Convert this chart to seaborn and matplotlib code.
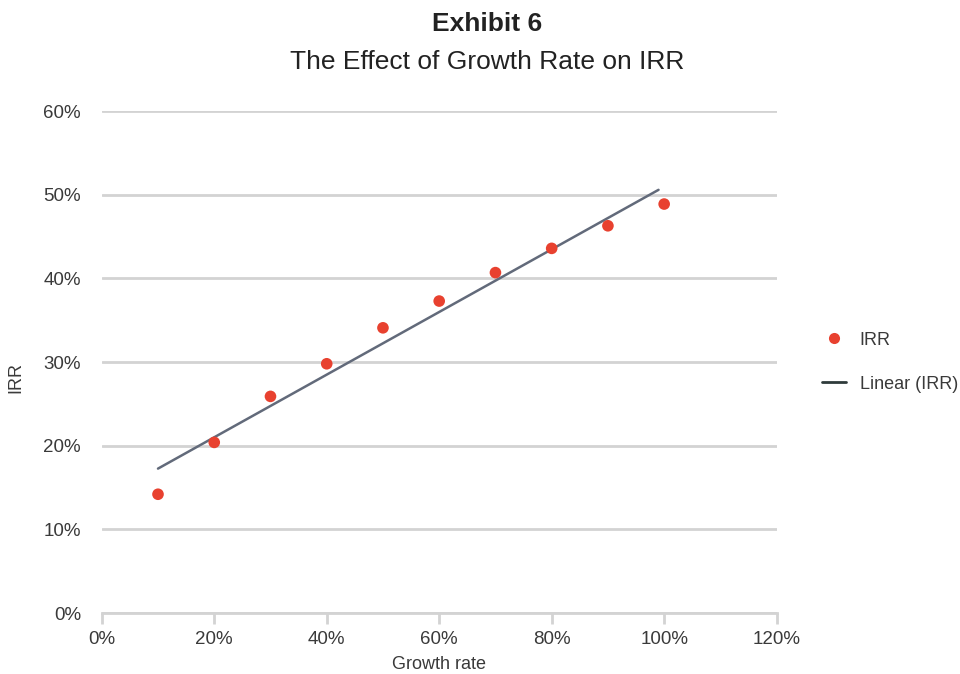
import numpy as np
import pandas as pd
import matplotlib
matplotlib.use("Agg")
import matplotlib.pyplot as plt
from matplotlib.ticker import PercentFormatter
import seaborn as sns

growth_rate = [0.10, 0.20, 0.30, 0.40, 0.50, 0.60, 0.70, 0.80, 0.90, 1.00]
irr = [0.142, 0.204, 0.259, 0.298, 0.341, 0.373, 0.407, 0.436, 0.463, 0.489]
trend_end = 0.99  # excel trendline stops just short of the last point

x_ticks = [0.0, 0.2, 0.4, 0.6, 0.8, 1.0, 1.2]
y_ticks = [0.0, 0.1, 0.2, 0.3, 0.4, 0.5, 0.6]

df = pd.DataFrame({"Growth rate": growth_rate, "IRR": irr})

# linear fit for the trendline
slope, intercept = np.polyfit(df["Growth rate"], df["IRR"], 1)
trend_x = np.array([growth_rate[0], trend_end])
trend = pd.DataFrame({"x": trend_x, "y": slope * trend_x + intercept})

sns.set_theme(style="white")
plt.rcParams["font.family"] = ["Liberation Sans", "DejaVu Sans"]

fig = plt.figure(figsize=(9.6, 6.74), dpi=100)
ax = fig.add_axes([0.106, 0.0905, 0.703, 0.7445])

text_col = "#3a3a3a"
grid_col = "#d3d3d3"

sns.lineplot(data=trend, x="x", y="y", ax=ax, color="#626a7a", linewidth=1.8,
             label="_nolegend_", zorder=2)
sns.scatterplot(data=df, x="Growth rate", y="IRR", ax=ax, color="#e8412f",
                s=70, edgecolor="none", zorder=3, label="_nolegend_")

ax.set_xlim(0, 1.2)
ax.set_ylim(0, 0.6)
ax.set_xticks(x_ticks)
ax.set_yticks(y_ticks)
ax.xaxis.set_major_formatter(PercentFormatter(1.0, decimals=0))
ax.yaxis.set_major_formatter(PercentFormatter(1.0, decimals=0))

ax.yaxis.grid(True, color=grid_col, linewidth=2)
ax.set_axisbelow(True)
for side in ["top", "right", "left"]:
    ax.spines[side].set_visible(False)
ax.spines["bottom"].set_color(grid_col)
ax.spines["bottom"].set_linewidth(2)
ax.tick_params(axis="x", bottom=True, length=8, width=2, color=grid_col,
               labelsize=13.5, labelcolor=text_col, pad=5)
ax.tick_params(axis="y", left=False, labelsize=13.5, labelcolor=text_col, pad=9)

ax.set_xlabel("Growth rate", fontsize=13, color=text_col, labelpad=6)
ax.set_ylabel("IRR", fontsize=13, color=text_col)
ax.yaxis.set_label_coords(-0.114, 0.47)

# legend
handles = [
    plt.Line2D([], [], marker="o", linestyle="none", color="#e8412f",
               markersize=8, markeredgewidth=0),
    plt.Line2D([], [], color="#2f3b3b", linewidth=2),
]
ax.legend(handles, ["IRR", "Linear (IRR)"], loc="center left",
          bbox_to_anchor=(1.043, 0.5), frameon=False, fontsize=13,
          labelcolor=text_col, handlelength=1.35, labelspacing=1.5,
          handletextpad=0.75)

fig.text(0.507, 0.965, "Exhibit 6", ha="center", va="center",
         fontsize=19, fontweight="bold", color="#222222")
fig.text(0.507, 0.908, "The Effect of Growth Rate on IRR", ha="center",
         va="center", fontsize=19, color="#222222")

fig.savefig("out.png", dpi=100)
